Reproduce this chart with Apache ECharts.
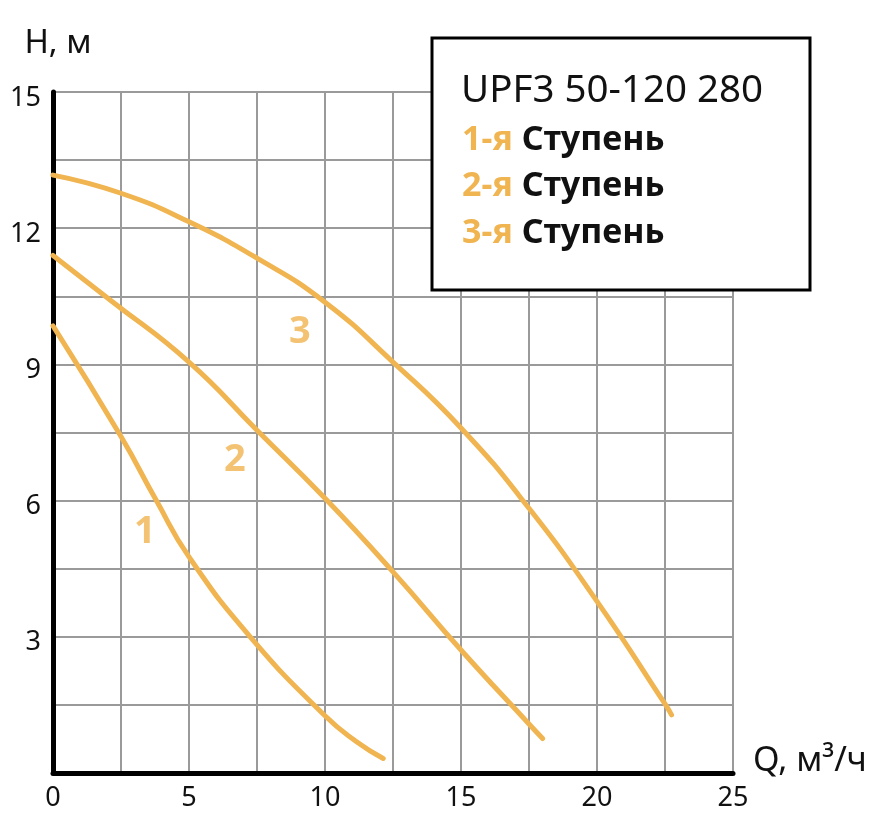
<!DOCTYPE html>
<html><head><meta charset="utf-8">
<script src="https://cdn.jsdelivr.net/npm/echarts@6/dist/echarts.min.js"></script>
<style>html,body{margin:0;padding:0;background:#fff}#c{width:892px;height:826px}</style>
</head><body><div id="c"></div>
<script>
// Tick labels shown on the axes
const xTickLabels = [0, 5, 10, 15, 20, 25];
const yTickLabels = [3, 6, 9, 12, 15];
// Pump curves: [Q (m3/h), H (m)]
const stage1 = [[0, 9.85], [2.5, 7.41], [3.8, 6.0], [5, 4.76], [7.25, 3.0], [10, 1.26], [11.16, 0.69], [12.14, 0.32]];
const stage2 = [[0, 11.4], [2.1, 10.42], [5, 9.05], [7.5, 7.55], [10, 6.05], [12.5, 4.43], [15, 2.71], [17.5, 1.08], [18.0, 0.76]];
const stage3 = [[0, 13.17], [2.5, 12.77], [5, 12.14], [7.5, 11.34], [10, 10.37], [12.5, 9.05], [15, 7.6], [17.5, 5.83], [20, 3.78], [22.5, 1.52], [22.74, 1.28]];
// Curve number labels: [Q, H, text]
const curveLabels = [[3.38, 5.3, '1'], [6.69, 6.9, '2'], [9.08, 9.7, '3']];
const legendTitle = 'UPF3 50-120 280';
const legendRows = ['1-я', '2-я', '3-я'];
const legendWord = 'Ступень';

const ORANGE = '#F0B450';
const FONT = '"Noto Sans", "Open Sans", sans-serif';

const chart = echarts.init(document.getElementById('c'));
const curveSeries = [stage1, stage2, stage3].map((d, i) => ({
  type: 'line', name: legendRows[i] + ' ' + legendWord, data: d, smooth: 0.5, showSymbol: false,
  lineStyle: { color: ORANGE, width: 5, cap: 'round' }, z: 3, silent: true
}));

const legendGraphics = [
  { type: 'rect', shape: { x: 432, y: 38, width: 378, height: 252 }, style: { fill: '#fff', stroke: '#000', lineWidth: 3 }, z: 100 },
  { type: 'text', x: 461, y: 91, z: 101, style: { text: legendTitle, font: '38.5px ' + FONT, fill: '#111', verticalAlign: 'middle' } }
].concat(legendRows.map((r, i) => ({
  type: 'text', x: 462, y: 140 + i * 46.5, z: 101,
  style: {
    text: '{o|' + r + '} {b|' + legendWord + '}', verticalAlign: 'middle',
    font: 'bold 34px ' + FONT,
    rich: {
      o: { fill: ORANGE, fontWeight: 'bold', fontSize: 34, fontFamily: FONT },
      b: { fill: '#111', fontWeight: 'bold', fontSize: 34, fontFamily: FONT }
    }
  }
})));

chart.setOption({
  animation: false,
  backgroundColor: '#fff',
  grid: { left: 53, right: 159, top: 92, bottom: 53 },
  xAxis: {
    type: 'value', min: 0, max: 25, interval: 2.5,
    name: 'Q, м³/ч', nameLocation: 'end', nameGap: 20,
    nameTextStyle: { fontSize: 34, color: '#111', fontFamily: FONT, align: 'left', verticalAlign: 'bottom', lineHeight: 24 },
    axisLine: { show: true, onZero: false, lineStyle: { color: '#000', width: 5 } },
    axisTick: { show: false },
    splitLine: { show: true, lineStyle: { color: '#9a9a9a', width: 2 } },
    axisLabel: { formatter: v => xTickLabels.includes(v) ? String(v) : '', fontSize: 27, color: '#111', fontFamily: FONT, margin: 12, showMaxLabel: true, showMinLabel: true }
  },
  yAxis: {
    type: 'value', min: 0, max: 15, interval: 1.5,
    name: 'H, м', nameLocation: 'end', nameGap: 33,
    nameTextStyle: { fontSize: 33, color: '#111', fontFamily: FONT, align: 'center', verticalAlign: 'bottom', lineHeight: 30, padding: [0, 0, 0, 10] },
    axisLine: { show: true, onZero: false, lineStyle: { color: '#000', width: 5 } },
    axisTick: { show: false },
    splitLine: { show: true, lineStyle: { color: '#9a9a9a', width: 2 } },
    axisLabel: { formatter: v => yTickLabels.includes(v) ? String(v) : '', fontSize: 27, color: '#111', fontFamily: FONT, margin: 12, verticalAlign: 'top', lineHeight: 12, showMaxLabel: true }
  },
  series: curveSeries.concat([{
    type: 'scatter', data: curveLabels, symbolSize: 1, itemStyle: { color: 'rgba(0,0,0,0)' }, silent: true, z: 4,
    label: { show: true, position: 'inside', formatter: p => p.data[2], color: ORANGE, fontSize: 38, fontWeight: 'bold', fontFamily: FONT }
  }]),
  graphic: legendGraphics
});
</script></body></html>
